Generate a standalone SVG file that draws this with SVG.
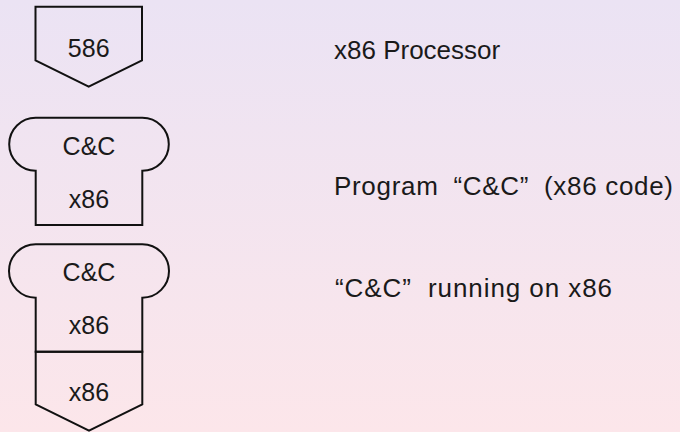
<svg xmlns="http://www.w3.org/2000/svg" width="680" height="432" viewBox="0 0 680 432">
<defs>
<linearGradient id="bg" x1="0" y1="0" x2="0" y2="1">
<stop offset="0" stop-color="#ebe3f4"/>
<stop offset="1" stop-color="#fce6ea"/>
</linearGradient>
</defs>
<style>
.shape{fill:none;stroke:#111;stroke-width:2;stroke-linejoin:miter}
.t{font-family:"Liberation Sans",Arial,sans-serif;font-size:25px;fill:#1a1a1a}
.l{font-size:26px}
.c{text-anchor:middle}
</style>
<rect x="0" y="0" width="680" height="432" fill="url(#bg)"/>
<g id="processor-586">
<path class="shape" d="M35.5,6.7 H142 V60.3 L88.7,86.7 L35.5,60.3 Z"/>
<text class="t c" x="88.7" y="56.5">586</text>
</g>
<g id="program-cc">
<path class="shape" d="M35.7,117.7 H142.3 A26.5,26.5 0 0 1 142.3,170.7 V225 H35.7 V170.7 A26.5,26.5 0 0 1 35.7,117.7 Z"/>
<text class="t c" x="89" y="155">C&amp;C</text>
<text class="t c" x="89" y="208">x86</text>
</g>
<g id="cc-on-x86">
<path class="shape" d="M35.7,244.3 H142.3 A26.7,26.7 0 0 1 142.3,297.7 V351.7 H35.7 V297.7 A26.7,26.7 0 0 1 35.7,244.3 Z"/>
<path class="shape" d="M35.7,351.7 H142.3 V404.3 L89,430.7 L35.7,404.3 Z"/>
<text class="t c" x="89" y="281">C&amp;C</text>
<text class="t c" x="89" y="334">x86</text>
<text class="t c" x="89" y="400.5">x86</text>
</g>
<g id="labels">
<text class="t l" x="334" y="59">x86 Processor</text>
<text class="t l" x="334" y="195" textLength="339" lengthAdjust="spacing">Program <tspan dx="7">“C&amp;C”</tspan> <tspan dx="7">(x86 code)</tspan></text>
<text class="t l" x="335" y="297" textLength="277" lengthAdjust="spacing">“C&amp;C” <tspan dx="8">running on x86</tspan></text>
</g>
</svg>
